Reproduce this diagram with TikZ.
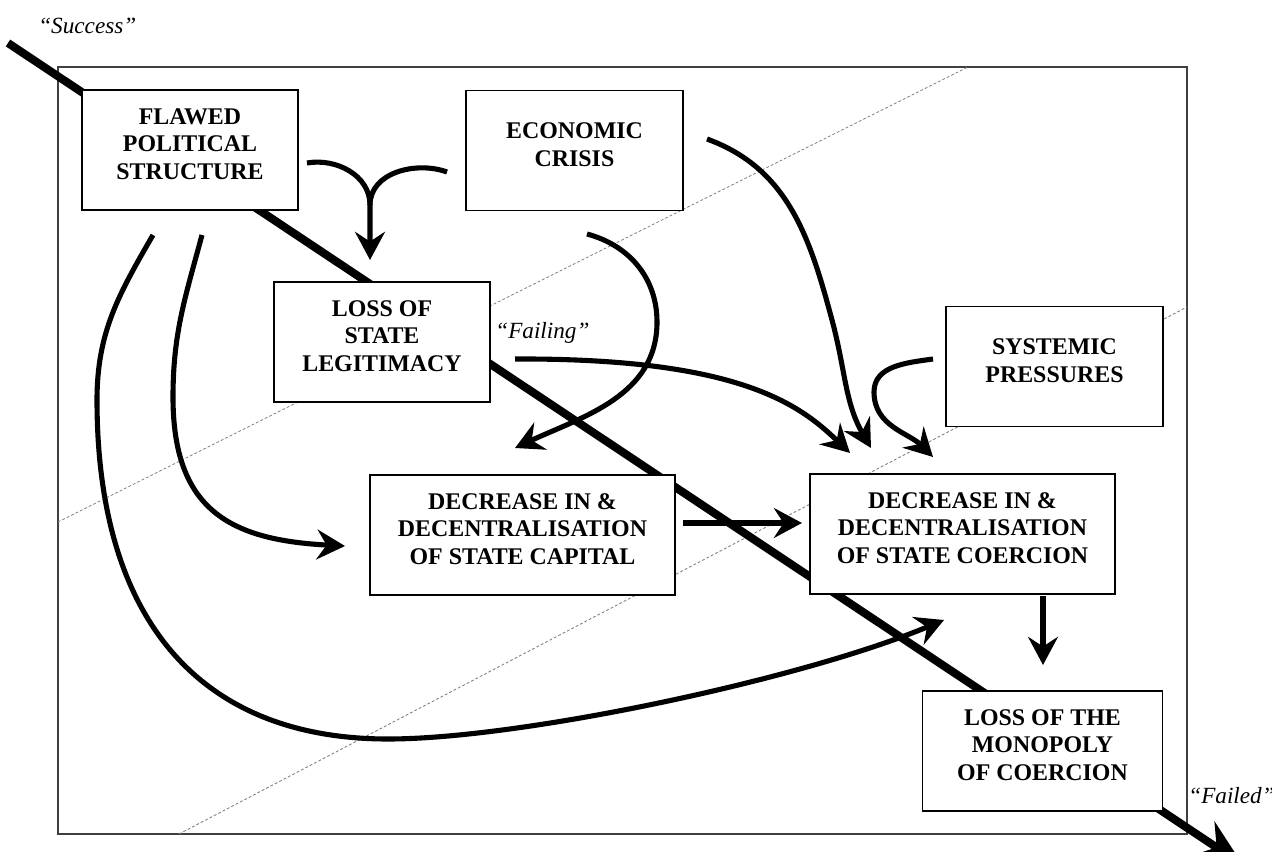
\documentclass[tikz,border=0pt]{standalone}
\usepackage{fontspec}
\setmainfont{Liberation Serif}
\usetikzlibrary{arrows.meta}

\tikzset{
  stagebox/.style={draw, fill=white, line width=0.8pt, minimum height=2.4cm, inner sep=0pt},
  stagetext/.style={align=center, font=\fontsize{13.6}{15.6}\selectfont\bfseries, yshift=0.12cm},
  causal/.style={line width=2.9pt, line join=round, -{Stealth[length=16pt,width=17pt,inset=5.5pt]}},
  branch/.style={line width=2.9pt},
  phase/.style={font=\fontsize{13.2}{15}\selectfont\itshape, inner sep=0pt, anchor=base west},
  guide/.style={gray, line width=0.5pt, dash pattern=on 1.6pt off 1.2pt},
}

\begin{document}
\begin{tikzpicture}[x=0.02cm,y=0.02cm]
  \useasboundingbox (0,0) rectangle (1272,-852);

  % Frame
  \draw[black!75,line width=0.6pt] (58,-67) rectangle (1187,-834);

  % Dotted guides
  \coordinate (A0) at (58,-522);
  \coordinate (A1) at (968,-67);
  \coordinate (B0) at (179,-834);
  \coordinate (B1) at (1187,-307);
  \draw[guide] (A0) -- (A1);
  \draw[guide] (B0) -- (B1);

  % Success -> failed axis
  \coordinate (S) at (8,-43);
  \coordinate (F) at (1243,-865);
  \draw[line width=4.6pt,-{Stealth[length=27pt,width=23pt,inset=9pt]}] (S) -- (F);

  % Stages
  \foreach \n/\x/\y/\w/\t in {
      fps/190/150/216/{FLAWED\\POLITICAL\\STRUCTURE},
      eco/574.5/150.5/217/{ECONOMIC\\CRISIS},
      leg/382/342/216/{LOSS OF\\STATE\\LEGITIMACY},
      cap/522.5/535/305/{DECREASE IN \&\\DECENTRALISATION\\OF STATE CAPITAL},
      sys/1054.5/366.5/217/{SYSTEMIC\\PRESSURES},
      coe/962.5/534/305/{DECREASE IN \&\\DECENTRALISATION\\OF STATE COERCION},
      mon/1042.5/751/240/{LOSS OF THE\\MONOPOLY\\OF COERCION}}
     {\node[stagebox, minimum width=\w*0.02cm] (\n) at (\x,-\y) {};
      \node[stagetext] (\n-t) at (\n) {\t};}

  % Phase labels
  \node[phase] (success) at (38,-33) {“Success”};
  \node[phase] (failing) at (495,-338) {“Failing”};
  \node[phase] (failed) at (1188,-803) {“Failed”};

  % Structure + crisis -> legitimacy
  \coordinate (yL) at (307,-163);
  \coordinate (yR) at (447,-172);
  \coordinate (yJ) at (370,-205);
  \coordinate (yT) at (370,-260);
  \draw[causal] (yL) to[out=10,in=90] (yJ) -- (yT);
  \draw[branch] (yR) to[out=160,in=90] (yJ);

  % Crisis -> capital
  \coordinate (e1) at (587,-234);
  \coordinate (e1m) at (657,-322);
  \coordinate (e1t) at (515,-448);
  \draw[causal] (e1) to[out=-15,in=90] (e1m) to[out=-90,in=25] (e1t);

  % Crisis -> coercion
  \coordinate (e2) at (707,-139);
  \coordinate (e2m) at (832,-320);
  \coordinate (e2t) at (871,-448);
  \draw[causal] (e2) to[out=-20,in=105] (e2m) to[out=-75,in=120] (e2t);

  % Legitimacy -> coercion
  \coordinate (l1) at (515,-359);
  \coordinate (l1t) at (850,-453);
  \draw[causal] (l1) .. controls (740,-358) and (800,-405) .. (l1t);

  % Systemic pressures -> coercion
  \coordinate (s1) at (933,-359);
  \coordinate (s1m) at (874,-392);
  \coordinate (s1t) at (933,-457);
  \draw[causal] (s1) to[out=188,in=90] (s1m) to[out=-90,in=135] (s1t);

  % Capital -> coercion -> monopoly
  \coordinate (c1) at (683,-523);
  \coordinate (c1t) at (802,-523);
  \coordinate (m1) at (1043,-596);
  \coordinate (m1t) at (1043,-665);
  \draw[causal] (c1) -- (c1t);
  \draw[causal] (m1) -- (m1t);

  % Structure -> capital
  \coordinate (f1) at (202,-235);
  \coordinate (f1m) at (173,-397);
  \coordinate (f1t) at (345,-546);
  \draw[causal] (f1) to[out=-105,in=90] (f1m) .. controls (173,-510) and (230,-540) .. (f1t);

  % Structure -> coercion
  \coordinate (f2) at (153,-235);
  \coordinate (f2m) at (97,-400);
  \coordinate (f2b) at (388,-739);
  \coordinate (f2t) at (944,-620);
  \draw[causal] (f2) to[out=-120,in=90] (f2m) .. controls (97,-620) and (200,-739) .. (f2b)
     .. controls (520,-739) and (800,-680) .. (f2t);
\end{tikzpicture}
\end{document}
